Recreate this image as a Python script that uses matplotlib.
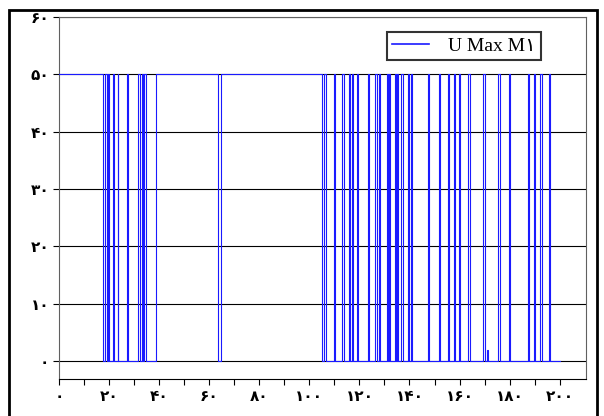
import numpy as np
import matplotlib
matplotlib.use('Agg')
import matplotlib.pyplot as plt
from matplotlib.patches import Rectangle

# step series U Max M1 : value holds from each time until the next one
t = [0, 17.7, 18.3, 19.0, 19.6, 19.95, 21.7, 22.05, 23.4, 23.75, 27.0, 27.7,
     31.7, 32.4, 33.3, 33.65, 34.0, 34.6, 38.6, 63.7, 64.7, 105.1, 105.7, 106.7,
     109.7, 110.05, 113.1, 113.7, 115.7, 116.4, 117.1, 117.45, 119.1, 119.45,
     123.5, 123.85, 126.4, 127.0, 127.7, 128.05, 131.0, 131.35, 132.0, 132.35,
     134.1, 134.45, 135.0, 135.35, 136.7, 137.6, 139.6, 139.95, 140.6, 140.95,
     147.3, 147.65, 151.7, 152.05, 155.3, 155.9, 157.7, 158.05, 159.6, 160.3,
     163.2, 164.0, 169.4, 170.2, 170.8, 171.5, 175.4, 176.3, 179.8, 180.15,
     187.2, 187.9, 189.6, 189.95, 192.3, 193.1, 195.6, 195.95, 200.3]
u = [50, 0, 50, 0, 50, 0, 50, 0, 50, 0, 50, 0,
     50, 0, 50, 0, 50, 0, 50, 0, 50, 0, 50, 0,
     50, 0, 50, 0, 50, 0, 50, 0, 50, 0,
     50, 0, 50, 0, 50, 0, 50, 0, 50, 0,
     50, 0, 50, 0, 50, 0, 50, 0, 50, 0,
     50, 0, 50, 0, 50, 0, 50, 0, 50, 0,
     50, 0, 50, 0, 2, 0, 50, 0, 50, 0,
     50, 0, 50, 0, 50, 0, 50, 0, 0]

xticks = [0, 20, 40, 60, 80, 100, 120, 140, 160, 180, 200]
yticks = [0, 10, 20, 30, 40, 50, 60]
fa_digits = str.maketrans('0123456789', '۰۱۲۳۴۵۶۷۸۹')
xlabels = [str(v).translate(fa_digits) for v in xticks]
ylabels = [str(v).translate(fa_digits) for v in yticks]
series_name = 'U Max M۱'

fig = plt.figure(figsize=(6.04, 4.16), dpi=100)
ax = fig.add_axes([59/604., 1-379/416., (586-59)/604., (379-17)/416.])

ax.step(t, u, where='post', color='#1a1aff', lw=0.8, label=series_name, zorder=3)

ax.set_xlim(0, 210.5)
ax.set_ylim(-3.14, 60)
ax.set_xticks(xticks)
ax.set_xticks(np.arange(10, 210, 20), minor=True)
ax.set_xticklabels(xlabels, fontname='DejaVu Sans', fontweight='bold', fontsize=11)
ax.set_yticks(yticks)
ax.set_yticklabels(ylabels, fontname='DejaVu Sans', fontweight='bold', fontsize=11)
ax.tick_params(axis='both', which='both', direction='out', length=4, width=0.8, color='black')
ax.tick_params(axis='x', pad=3)
ax.tick_params(axis='y', pad=3)

for y in yticks:
    ax.axhline(y, color='black', lw=0.8, zorder=1)
for s in ['left', 'right', 'top']:
    ax.spines[s].set_color('#606060')
    ax.spines[s].set_linewidth(0.8)
ax.spines['bottom'].set_color('black')

leg = ax.legend(loc='center', bbox_to_anchor=(464/604., 1-46/416.), bbox_transform=fig.transFigure,
                prop={'family': ['Liberation Serif', 'DejaVu Sans'], 'size': 14},
                frameon=True, fancybox=False, handlelength=1.9, handletextpad=1.0,
                borderpad=0.25, borderaxespad=0)
leg.get_frame().set_edgecolor('black')
leg.get_frame().set_linewidth(1.5)
for h in leg.get_lines():
    h.set_linewidth(1.2)

# outer frame, its bottom edge runs off the picture
fig.patches.append(Rectangle((8.5/604., -0.01), (597-8.5)/604., 1-10/416. + 0.01,
                             transform=fig.transFigure, fill=False, ec='black', lw=2.0))

plt.savefig('out.png', dpi=100)
